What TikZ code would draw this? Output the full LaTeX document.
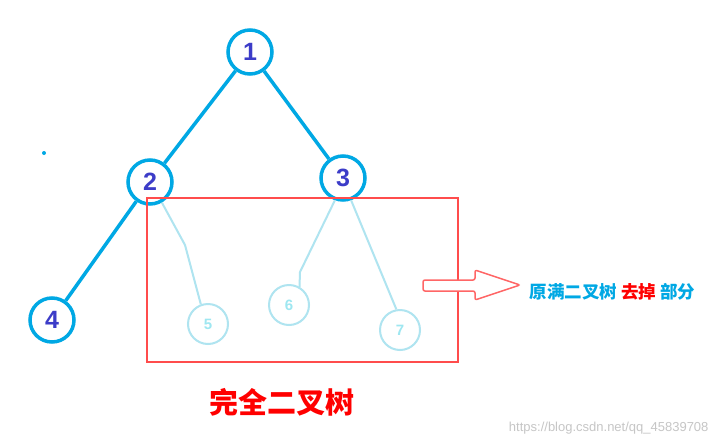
\documentclass[tikz,border=0pt]{standalone}
\usepackage{fontspec}
\setmainfont{Liberation Sans}
\newfontfamily\cjk{Noto Sans CJK SC}
\definecolor{tb}{RGB}{0,168,228}
\definecolor{tn}{RGB}{60,60,200}
\definecolor{fb}{RGB}{175,228,240}
\begin{document}
\begin{tikzpicture}[x=1pt,y=-1pt,
  big/.style={circle,draw=tb,line width=3.5pt,minimum size=44pt,inner sep=0pt,font=\bfseries\fontsize{25}{25}\selectfont,text=tn},
  faint/.style={circle,draw=fb,line width=2pt,minimum size=40pt,inner sep=0pt,font=\bfseries\fontsize{15}{15}\selectfont,text=fb!90!cyan},
  edge/.style={tb,line width=3.5pt},
  fedge/.style={fb,line width=2pt}]
\useasboundingbox (0,0) rectangle (719,447);
\fill[white] (0,0) rectangle (719,447);
\node[big] (n1) at (250,52) {1};
\node[big] (n2) at (150,182) {2};
\node[big] (n3) at (343,178) {3};
\node[big] (n4) at (52,320) {4};
\node[faint] (n5) at (208,324) {5};
\node[faint] (n6) at (289,305) {6};
\node[faint] (n7) at (400,330) {7};
\draw[edge] (n1) -- (n2);
\draw[edge] (n1) -- (n3);
\draw[edge] (n2) -- (n4);
\coordinate (b5) at (185,245);
\coordinate (b6) at (300,272);
\draw[fedge] (n2.-60) -- (b5) -- (n5.110);
\draw[fedge] (n3.-110) -- (b6) -- (n6.60);
\draw[fedge] (n3.-70) -- (n7.100);
\fill[tb] (44,153) circle (2);
\node[draw=red!70,line width=2pt,minimum width=311pt,minimum height=164pt,inner sep=0pt] (box) at (302.5,280) {};
\draw[red!60,line width=1.5pt,fill=white,rounded corners=2pt] (423,280) -- (475,280) -- (475,270) -- (520,285) -- (475,300) -- (475,291) -- (423,291) -- cycle;
\node[anchor=west,font=\cjk\bfseries\fontsize{17.5}{17.5}\selectfont] (lbl) at (526,292) {\textcolor{tb}{原满二叉树} \textcolor{red}{去掉} \textcolor{tb}{部分}};
\node[font=\cjk\bfseries\fontsize{29}{29}\selectfont,text=red] (title) at (282,402) {完全二叉树};
\node[anchor=east,font=\fontsize{13}{13}\selectfont,text=gray!45] (wm) at (712,428) {https://blog.csdn.net/qq\_45839708};
\end{tikzpicture}
\end{document}
